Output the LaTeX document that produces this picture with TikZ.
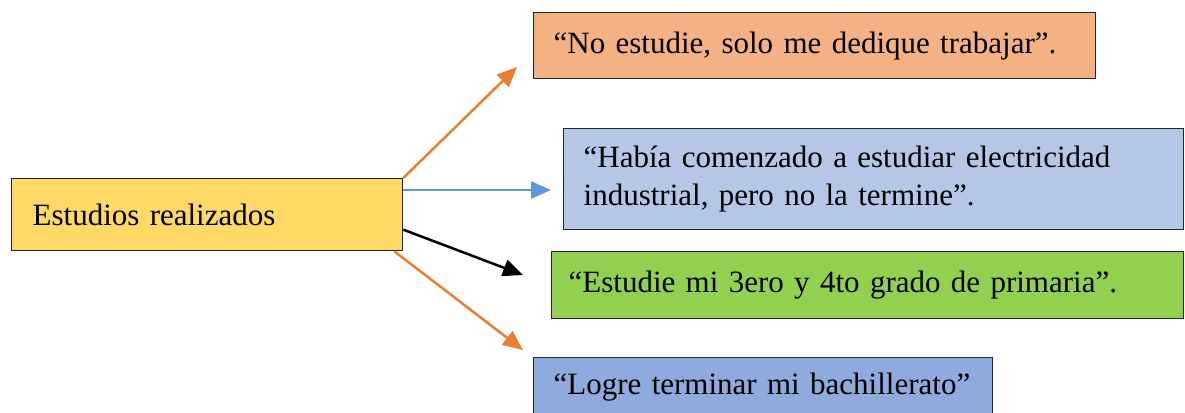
\documentclass[tikz,border=0pt]{standalone}
\usepackage{fontspec}
\setmainfont{Liberation Serif}
\usetikzlibrary{arrows.meta,calc}
\hyphenpenalty=10000
\exhyphenpenalty=10000
\definecolor{yel}{HTML}{FFD966}
\definecolor{orbox}{HTML}{F4B183}
\definecolor{blbox}{HTML}{B4C7E7}
\definecolor{grbox}{HTML}{92D050}
\definecolor{bl2box}{HTML}{8FAADC}
\definecolor{orarr}{HTML}{ED7D31}
\definecolor{blarr}{HTML}{5B9BD5}
\begin{document}
\begin{tikzpicture}[x=1pt,y=-1pt,
  box/.style={draw=black!85, line width=1.3pt, rectangle, anchor=north west,
    align=left, inner ysep=0pt, font=\fontsize{31}{38}\selectfont},
  arr/.style={line width=2.5pt, -{Triangle[length=20pt,width=17pt]}}]
\useasboundingbox (0,0) rectangle (1185,412);
\node[box, fill=yel, minimum width=390pt, minimum height=72pt, text width=349pt, inner xsep=21pt] (src) at (11,178) {Estudios realizados};
\node[box, fill=orbox, minimum width=562pt, minimum height=66pt, text width=522pt, inner xsep=20pt] (a) at (533,12) {“No estudie, solo me dedique trabajar”.};
\node[box, fill=blbox, minimum width=620pt, minimum height=101pt, text width=580pt, inner xsep=20pt] (b) at (563,128) {“Había comenzado a estudiar electricidad\\industrial, pero no la termine”.};
\node[box, fill=grbox, minimum width=632pt, minimum height=67pt, text width=598pt, inner xsep=17pt] (c) at (551,251) {“Estudie mi 3ero y 4to grado de primaria”.};
\node[box, fill=bl2box, minimum width=459pt, minimum height=58pt, text width=419pt, inner xsep=20pt] (d) at (533,357) {“Logre terminar mi bachillerato”};
\coordinate (ta) at (517,67);
\coordinate (tb) at (551,190);
\coordinate (tc) at (523,275);
\coordinate (td) at (523,350);
\draw[arr, orarr] (src.north east) -- (ta);
\draw[arr, blarr] ($(src.north east)+(0,12)$) -- (tb);
\draw[arr, black] ($(src.east)+(0,15)$) -- (tc);
\draw[arr, orarr] ($(src.south east)+(-9,0)$) -- (td);
\end{tikzpicture}
\end{document}
